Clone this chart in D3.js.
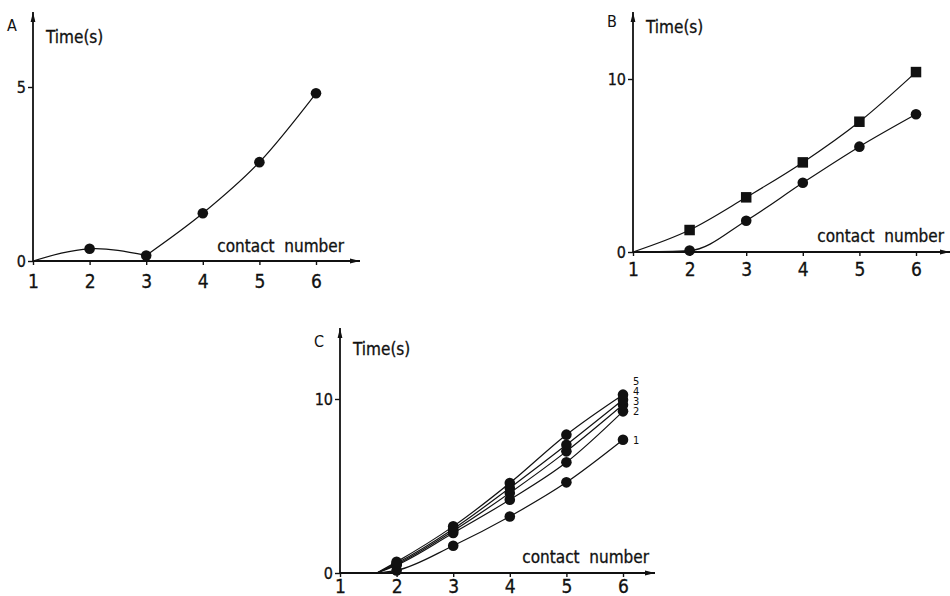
<!DOCTYPE html>
<html>
<head>
<meta charset="utf-8">
<script src="https://cdn.jsdelivr.net/npm/d3@7"></script>
<style>
  body { margin: 0; background: #fff; }
  svg { display: block; }
  text { font-family: "DejaVu Sans Condensed", "DejaVu Sans", sans-serif; fill: #111; }
  .axis path, .axis line { stroke: #111; }
  .curve { fill: none; stroke: #111; stroke-width: 1.2; }
</style>
</head>
<body>
<div id="chart"></div>
<script>
// contact numbers and tick values
const xTicks = [1, 2, 3, 4, 5, 6];
const contactNumbers = [2, 3, 4, 5, 6];
const yTicksA = [0, 5];
const yTicksBC = [0, 10];

// panel A: one series
const timeA = [0.35, 0.16, 1.37, 2.84, 4.82];

// panel B: squares and circles
const timeBSquares = [1.27, 3.16, 5.18, 7.53, 10.4];
const timeBCircles = [0.08, 1.81, 4.0, 6.09, 7.96];

// panel C: five numbered series
const seriesLabelsC = ["1", "2", "3", "4", "5"];
const timeC1 = [0.15, 1.57, 3.25, 5.21, 7.66];
const timeC2 = [0.45, 2.30, 4.21, 6.36, 9.29];
const timeC3 = [0.50, 2.42, 4.60, 6.99, 9.67];
const timeC4 = [0.56, 2.53, 4.89, 7.37, 9.96];
const timeC5 = [0.64, 2.68, 5.17, 7.95, 10.25];

// where each curve leaves the x axis
const startA = 1;
const startB = 1;
const startC = 1.65;

const width = 950, height = 596;

const svg = d3.select("#chart").append("svg")
    .attr("width", width)
    .attr("height", height);

svg.append("defs").append("marker")
    .attr("id", "arrow")
    .attr("viewBox", "0 0 10 6")
    .attr("refX", 10).attr("refY", 3)
    .attr("markerWidth", 11).attr("markerHeight", 6)
    .attr("markerUnits", "userSpaceOnUse")
    .attr("orient", "auto")
    .append("path")
    .attr("d", "M0,0.6 L10,3 L0,5.4 Z")
    .attr("fill", "#111");

function drawPanel(p) {
    const x = d3.scaleLinear().domain([1, 6]).range([p.left, p.x6]);
    const y = d3.scaleLinear().domain([0, p.yMax]).range([p.bottom, p.yTop]);
    const g = svg.append("g");

    // axis lines with arrows
    g.append("line")
        .attr("x1", p.left).attr("x2", p.arrowRight)
        .attr("y1", p.bottom).attr("y2", p.bottom)
        .attr("stroke", "#111").attr("stroke-width", 1.8)
        .attr("marker-end", "url(#arrow)");
    g.append("line")
        .attr("x1", p.left).attr("x2", p.left)
        .attr("y1", p.bottom).attr("y2", p.arrowTop)
        .attr("stroke", "#111").attr("stroke-width", 1.8)
        .attr("marker-end", "url(#arrow)");

    const xAxis = g.append("g")
        .attr("class", "axis")
        .attr("transform", "translate(0," + p.bottom + ")")
        .call(d3.axisBottom(x).tickValues(xTicks).tickSizeInner(4).tickSizeOuter(0)
            .tickPadding(p.xPad).tickFormat(d3.format("d")));
    xAxis.select(".domain").remove();
    xAxis.selectAll("text").style("font-size", "19px").attr("fill", "#111")
        .attr("stroke", "#111").attr("stroke-width", 0.3);
    xAxis.selectAll("line").attr("stroke-width", 1.4);

    const yAxis = g.append("g")
        .attr("class", "axis")
        .attr("transform", "translate(" + p.left + ",0)")
        .call(d3.axisLeft(y).tickValues(p.yTicks).tickSizeInner(5).tickSizeOuter(0)
            .tickPadding(2).tickFormat(d3.format("d")));
    yAxis.select(".domain").remove();
    yAxis.selectAll("text").style("font-size", "16px").attr("fill", "#111")
        .attr("stroke", "#111").attr("stroke-width", 0.3);
    yAxis.selectAll("line").attr("stroke-width", 1.4);

    // labels
    g.append("text").attr("x", p.letterX).attr("y", p.letterY)
        .style("font-size", "16px").text(p.letter);
    g.append("text").attr("x", p.left + 13).attr("y", p.timeY)
        .style("font-size", "17px")
        .attr("stroke", "#111").attr("stroke-width", 0.3)
        .text("Time(s)");
    g.append("text").attr("x", p.cnRight).attr("y", p.cnY)
        .attr("text-anchor", "end")
        .style("font-size", "17px")
        .style("white-space", "pre")
        .attr("stroke", "#111").attr("stroke-width", 0.3)
        .text("contact  number");

    return {g, x, y};
}

function curvePath(x, y, pts, curve) {
    return d3.line()
        .x(d => x(d[0]))
        .y(d => y(d[1]))
        .curve(curve)(pts);
}

function withStart(start, values) {
    return [[start, 0]].concat(contactNumbers.map((c, i) => [c, values[i]]));
}

function dots(g, x, y, values) {
    g.selectAll(null).data(values).enter().append("circle")
        .attr("cx", (d, i) => x(contactNumbers[i]))
        .attr("cy", d => y(d))
        .attr("r", 5.3)
        .attr("fill", "#111");
}

function squares(g, x, y, values) {
    const s = 10.5;
    g.selectAll(null).data(values).enter().append("rect")
        .attr("x", (d, i) => x(contactNumbers[i]) - s / 2)
        .attr("y", d => y(d) - s / 2)
        .attr("width", s).attr("height", s)
        .attr("fill", "#111");
}

// ---- Panel A
const A = drawPanel({
    letter: "A", letterX: 7, letterY: 31,
    left: 33, x6: 316, bottom: 261, yTop: 87, yMax: 5, yTicks: yTicksA,
    arrowRight: 360, arrowTop: 12, xPad: 10,
    timeY: 43, cnRight: 344, cnY: 252
});
{
    const pts = withStart(startA, timeA);
    A.g.append("path").attr("class", "curve")
        .attr("d", curvePath(A.x, A.y, pts.slice(0, 3), d3.curveNatural));
    A.g.append("path").attr("class", "curve")
        .attr("d", curvePath(A.x, A.y, pts.slice(2), d3.curveMonotoneX));
    dots(A.g, A.x, A.y, timeA);
}

// ---- Panel B
const B = drawPanel({
    letter: "B", letterX: 607, letterY: 27,
    left: 633, x6: 916, bottom: 252, yTop: 79, yMax: 10, yTicks: yTicksBC,
    arrowRight: 950, arrowTop: 12, xPad: 7,
    timeY: 33, cnRight: 944, cnY: 242
});
[timeBSquares, timeBCircles].forEach(vals => {
    B.g.append("path").attr("class", "curve")
        .attr("d", curvePath(B.x, B.y, withStart(startB, vals), d3.curveMonotoneX));
});
squares(B.g, B.x, B.y, timeBSquares);
dots(B.g, B.x, B.y, timeBCircles);

// ---- Panel C
const C = drawPanel({
    letter: "C", letterX: 314, letterY: 347,
    left: 340, x6: 623, bottom: 573, yTop: 399, yMax: 10, yTicks: yTicksBC,
    arrowRight: 655, arrowTop: 328, xPad: 3,
    timeY: 355, cnRight: 649, cnY: 563
});
const seriesC = [timeC1, timeC2, timeC3, timeC4, timeC5];
seriesC.forEach(vals => {
    C.g.append("path").attr("class", "curve")
        .attr("d", curvePath(C.x, C.y, withStart(startC, vals), d3.curveMonotoneX));
});
seriesC.forEach(vals => dots(C.g, C.x, C.y, vals));

// end labels: "1" beside its own dot, 2–5 stacked above series 2
seriesLabelsC.forEach((lab, i) => {
    const last = seriesC[i][seriesC[i].length - 1];
    const yPos = i === 0 ? C.y(last) : C.y(seriesC[1][4]) - (i - 1) * 10;
    C.g.append("text")
        .attr("x", C.x(6) + 10)
        .attr("y", yPos)
        .attr("dy", "0.36em")
        .style("font-size", "11px")
        .text(lab);
});
</script>
</body>
</html>
